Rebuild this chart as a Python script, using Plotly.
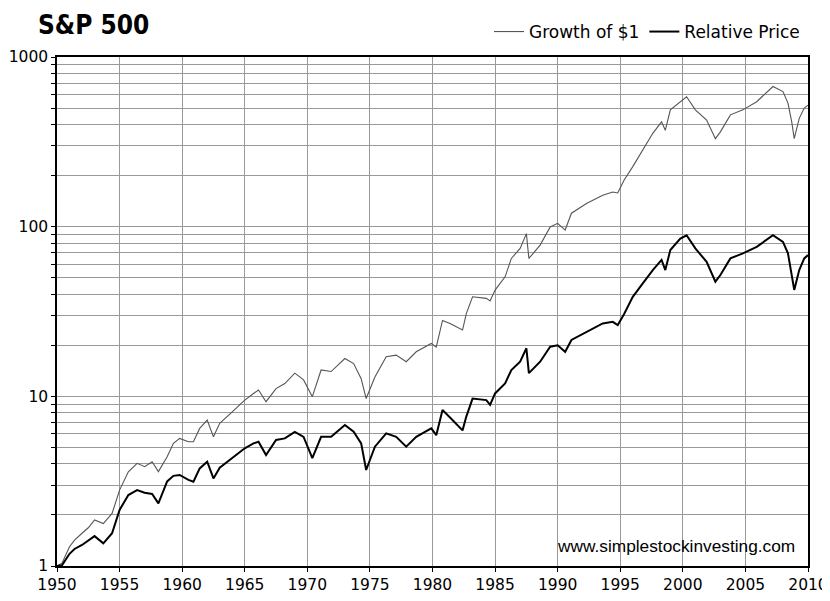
import plotly.graph_objects as go

years = [1950.0, 1950.4, 1951.0, 1951.4, 1952.0, 1952.5, 1953.0, 1953.7, 1954.4, 1955.0,
         1955.7, 1956.4, 1957.0, 1957.6, 1958.1, 1958.8, 1959.3, 1959.8, 1960.5, 1960.9,
         1961.4, 1962.0, 1962.5, 1963.0, 1964.0, 1965.0, 1965.7, 1966.1, 1966.7, 1967.5,
         1968.2, 1969.0, 1969.7, 1970.4, 1971.1, 1971.9, 1973.0, 1973.7, 1974.3, 1974.7,
         1975.4, 1976.3, 1977.1, 1977.9, 1978.7, 1979.9, 1980.3, 1980.8, 1981.4, 1982.4,
         1982.7, 1983.2, 1984.3, 1984.6, 1985.0, 1985.8, 1986.3, 1987.0, 1987.5, 1987.7,
         1988.6, 1989.4, 1990.0, 1990.6, 1991.1, 1992.3, 1993.6, 1994.4, 1994.8, 1995.3,
         1996.0, 1996.8, 1997.6, 1998.3, 1998.6, 1999.0, 1999.8, 2000.3, 2001.0, 2001.9,
         2002.6, 2003.0, 2003.8, 2004.8, 2005.9, 2007.2, 2008.0, 2008.4, 2008.7, 2008.9,
         2009.3, 2009.7, 2010.0]

growth_of_1 = [1.00, 1.04, 1.30, 1.42, 1.56, 1.68, 1.87, 1.78, 2.04, 2.80,
               3.59, 4.03, 3.85, 4.12, 3.60, 4.40, 5.28, 5.65, 5.40, 5.40,
               6.47, 7.24, 5.77, 6.94, 8.1, 9.5, 10.4, 10.9, 9.3, 11.1,
               11.9, 13.7, 12.5, 9.95, 14.3, 14.0, 16.7, 15.6, 12.7, 9.7,
               13.0, 17.1, 17.5, 16.0, 18.3, 20.5, 19.5, 28.0, 26.9, 24.6,
               30.7, 38.6, 37.8, 36.5, 42.3, 50.6, 65, 74.4, 91, 65,
               77.9, 99.7, 104.6, 95.5, 120, 137, 153, 160, 158, 188,
               226, 283, 355, 415, 370, 488, 545, 583, 488, 425,
               330, 362, 456, 488, 545, 670, 625, 535, 415, 330,
               435, 500, 520]

relative_price = [1.00, 1.01, 1.18, 1.26, 1.33, 1.42, 1.50, 1.36, 1.56, 2.14,
                  2.62, 2.80, 2.70, 2.66, 2.34, 3.15, 3.40, 3.44, 3.22, 3.14,
                  3.76, 4.12, 3.28, 3.80, 4.32, 4.94, 5.28, 5.4, 4.51, 5.53,
                  5.65, 6.18, 5.77, 4.32, 5.77, 5.77, 6.78, 6.18, 5.28, 3.68,
                  5.05, 6.05, 5.77, 5.05, 5.77, 6.47, 5.9, 8.3, 7.5, 6.3,
                  7.6, 9.7, 9.5, 8.9, 10.4, 11.9, 14.3, 16.0, 19.2, 13.7,
                  16.0, 19.6, 20.0, 18.3, 21.5, 23.9, 26.9, 27.5, 26.3, 30.5,
                  38.6, 46.3, 55.5, 63.7, 55.5, 72.8, 85, 89, 74.5, 62.0,
                  47.4, 51.9, 65, 69.6, 76, 89, 81.4, 69.6, 52.9, 42.4,
                  55.5, 65, 68]

x_ticks = list(range(1950, 2011, 5))
y_ticks = [m * 10 ** e for e in range(0, 3) for m in range(1, 10)] + [1000]
y_labels = [str(v) if v in (1, 10, 100, 1000) else "" for v in y_ticks]

fig = go.Figure()
fig.add_trace(go.Scatter(x=years, y=growth_of_1, mode="lines", name="Growth of $1",
                         line=dict(color="#555555", width=1.1)))
fig.add_trace(go.Scatter(x=years, y=relative_price, mode="lines", name="Relative Price",
                         line=dict(color="#000000", width=2)))

axis_font = dict(family="DejaVu Sans, Verdana, sans-serif", size=15.5, color="#000")

common_axis = dict(showgrid=True, gridcolor="#999999", gridwidth=1,
                   showline=True, linecolor="#000", linewidth=1.5, mirror=True,
                   ticks="outside", ticklen=4, tickcolor="#000", tickfont=axis_font,
                   zeroline=False, automargin=False, ticklabeloverflow="allow")

W, H = 821, 585
fig.update_layout(
    width=W, height=H,
    margin=dict(l=49, r=21, t=49, b=27),
    paper_bgcolor="white", plot_bgcolor="white",
    showlegend=True,
    legend=dict(orientation="h", xref="container", yref="container",
                x=797 / W, xanchor="right", y=1 - 24 / H, yanchor="middle",
                font=dict(family="DejaVu Sans, Verdana, sans-serif", size=17, color="#000"),
                bgcolor="rgba(0,0,0,0)", itemwidth=30, tracegroupgap=0),
    annotations=[
        dict(text="<b>S&amp;P 500</b>", xref="paper", yref="paper", x=-0.028, y=1.062,
             xanchor="left", yanchor="middle", showarrow=False,
             font=dict(family="DejaVu Sans Condensed, Liberation Sans, sans-serif",
                       size=26, color="#000")),
        dict(text="www.simplestockinvesting.com", xref="paper", yref="paper", x=0.985, y=0.04,
             xanchor="right", yanchor="middle", showarrow=False,
             font=dict(family="Liberation Sans, Arial, sans-serif", size=17.3, color="#000")),
    ],
    xaxis=dict(range=[1950, 2010], tickvals=x_ticks, ticktext=[str(v) for v in x_ticks],
               **common_axis),
    yaxis=dict(type="log", range=[0, 3], tickvals=y_ticks, ticktext=y_labels,
               **common_axis),
)

fig.write_html("out.html")
